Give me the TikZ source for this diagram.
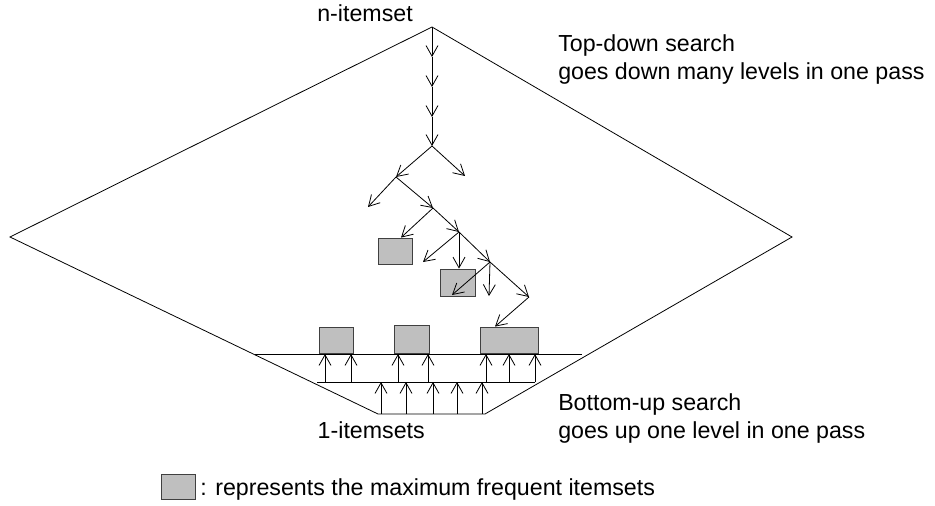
\documentclass[tikz,border=0pt]{standalone}
\usepackage{fontspec}
\setmainfont{Liberation Sans}
\usepackage{tikz}
\usetikzlibrary{arrows.meta}

\begin{document}
\begin{tikzpicture}[x=0.75pt,y=-0.75pt]
  \tikzstyle{arr} = [-{Straight Barb[length=8pt,width=9pt]}, line width=0.6pt]
  \tikzstyle{mfi} = [draw=black!75, fill=black!25, line width=0.6pt,
    inner sep=0pt, minimum width=25.5pt, minimum height=19.5pt]
  \tikzstyle{lbl} = [inner sep=0pt, align=left,
    font=\fontsize{17.4}{21}\selectfont]

  \useasboundingbox (0,0) rectangle (935,506);

  \coordinate (top) at (432,27);
  \coordinate (lv) at (10,237);
  \coordinate (rv) at (792,237);
  \coordinate (bl) at (378,414);
  \coordinate (br) at (485,414);
  \draw[line width=0.6pt] (bl) -- (lv) -- (top) -- (rv) -- (br) -- cycle;

  \coordinate (r1) at (255,354);
  \coordinate (r1e) at (582,354);
  \coordinate (r2) at (317,382);
  \coordinate (r2e) at (535,382);
  \draw[line width=0.6pt] (r1) -- (r1e);
  \draw[line width=0.6pt] (r2) -- (r2e);

  \node[mfi] (m1) at (395,251) {};
  \node[mfi, minimum width=26.25pt, minimum height=20.25pt] (m2) at (457.5,282.5) {};
  \node[mfi] (m3) at (336,340) {};
  \node[mfi, minimum width=26.25pt, minimum height=21pt] (m4) at (411.5,339) {};
  \node[mfi, minimum width=43.5pt] (m5) at (509,340) {};

  \coordinate (a1) at (432,57);
  \coordinate (a2) at (432,87);
  \coordinate (a3) at (432,117);
  \coordinate (a4) at (432,146);
  \draw[arr] (top) -- (a1);
  \draw[arr] (a1) -- (a2);
  \draw[arr] (a2) -- (a3);
  \draw[arr] (a3) -- (a4);

  \coordinate (b1) at (396,177);
  \coordinate (b2) at (465,176);
  \draw[arr] (a4) -- (b1);
  \draw[arr] (a4) -- (b2);

  \coordinate (c1) at (368,207);
  \coordinate (c2) at (433,208);
  \draw[arr] (b1) -- (c1);
  \draw[arr] (b1) -- (c2);

  \coordinate (d1) at (459,232);
  \draw[arr] (c2) -- ([xshift=4.5pt]m1.north);
  \draw[arr] (c2) -- (d1);

  \coordinate (d2) at (423,262);
  \coordinate (e1) at (490,262);
  \draw[arr] (d1) -- (d2);
  \draw[arr] (d1) -- (d1 |- m2.north);
  \draw[arr] (d1) -- (e1);

  \coordinate (e2) at (452,295);
  \coordinate (e3) at (489,296);
  \coordinate (f1) at (529,297);
  \draw[arr] (e1) -- (e2);
  \draw[arr] (e1) -- (e3);
  \draw[arr] (e1) -- (f1);
  \draw[arr] (f1) -- ([xshift=-10.5pt]m5.north);

  \foreach \x in {325,351,398,428,486,509,535}
    \draw[arr] (\x,0 |- r2) -- (\x,0 |- r1);
  \foreach \x in {381,406,433,457,482}
    \draw[arr] (\x,0 |- bl) -- (\x,0 |- r2);

  \node[lbl, anchor=base east] (nset) at (413,22) {n-itemset};
  \node[lbl, anchor=base west] (tdown) at (558,80)
    {Top-down search\\goes down many levels in one pass};
  \node[lbl, anchor=base west] (bup) at (558,438)
    {Bottom-up search\\goes up one level in one pass};
  \node[lbl, anchor=base east] (oneset) at (425,438) {1-itemsets};

  \node[mfi, minimum height=18.75pt] (key) at (178,486.5) {};
  \node[lbl, anchor=base west] (keytxt) at (200,495)
    {: represents the maximum frequent itemsets};
\end{tikzpicture}
\end{document}
